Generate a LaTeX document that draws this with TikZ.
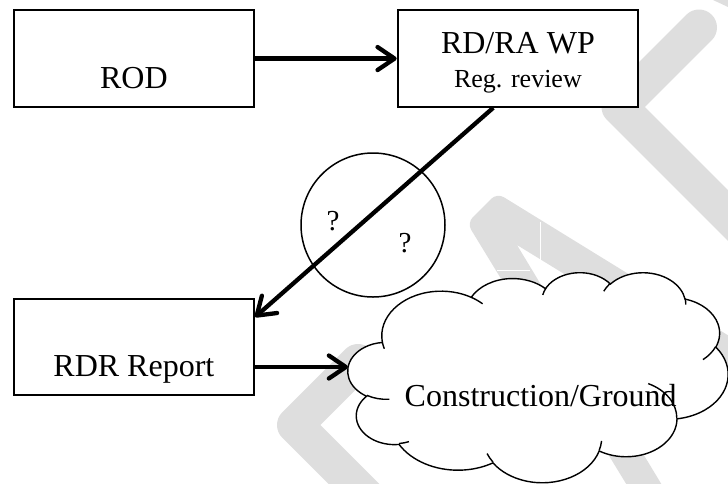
\documentclass[tikz,border=0pt]{standalone}
\usepackage{fontspec}
\setmainfont{Liberation Serif}
\usetikzlibrary{arrows.meta}
\definecolor{wmgray}{RGB}{222,222,222}
\begin{document}
\begin{tikzpicture}[x=1pt,y=-1pt,
  box/.style={draw, line width=1.8pt, fill=white, inner sep=0pt,
    minimum width=240.6pt, minimum height=96.7pt, anchor=north west},
  big/.style={font=\fontsize{32}{38}\selectfont, inner sep=0pt, anchor=base},
  small/.style={font=\fontsize{26}{31}\selectfont, inner sep=0pt, anchor=base},
  qmark/.style={font=\fontsize{29}{34}\selectfont, inner sep=0pt, anchor=base},
  conn/.style={line width=4.3pt, -{Straight Barb[length=17pt,width=23pt,round]}},
  wm/.style={wmgray, line width=36pt, line cap=round, line join=round},
  seam/.style={white, line width=0.8pt},
  cloudline/.style={line width=1.4pt},
  % elliptic arc given by radii, start angle and sweep measured as ray angles
  carc/.style n args={4}{insert path={arc[x radius=#1, y radius=#2,
    start angle={atan2((#1)*sin(#3),(#2)*cos(#3))},
    delta angle={mod(atan2((#1)*sin((#3)+(#4)),(#2)*cos((#3)+(#4)))-atan2((#1)*sin(#3),(#2)*cos(#3))+720,360)}]}}
]
\useasboundingbox (0,0) rectangle (728,483);

% faint background marks
\begin{scope}
  \clip (0,0) rectangle (728,483);
  \draw[wm] (699,27.5) -- (619.5,107) -- (780,267.5);
  \draw[wm] (358,362) -- (295,425) -- (370,500);
  \fill[wmgray] (517,245) -- (760,394) -- (760,355) [rounded corners=8pt] -- (497,193)
    -- (467,223) [sharp corners] -- (636,500) -- (671,500) -- cycle;
  \fill[wmgray] (713,0) -- (728,0) -- (728,7) -- cycle;
  \draw[seam] (540,222) -- (540,262);
  \draw[seam] (497,270) -- (530,270);
\end{scope}

% cloud outline
\begin{scope}[shift={(348,272)}, xscale=0.87963, yscale=0.48611]
  \draw[cloudline, fill=white] (39.00,143.70)
    [carc={67.53}{91.90}{-190.4875}{123.7805}]
    [carc={53.33}{72.67}{-144.1024}{89.9452}]
    [carc={43.65}{59.45}{-145.8079}{99.7230}]
    [carc={48.57}{65.95}{-130.9861}{117.2417}]
    [carc={53.33}{72.73}{-78.7089}{109.0269}]
    [carc={67.75}{92.20}{-46.2673}{130.2690}]
    [carc={57.85}{78.67}{0.6250}{114.0333}]
    [carc={67.52}{92.15}{22.4516}{115.1726}]
    [carc={77.20}{105.43}{66.2426}{75.7110}]
    [carc={43.60}{59.18}{-274.9421}{146.7356}]
    [carc={43.45}{59.45}{-246.8285}{152.5189}] -- cycle;
\end{scope}

\node[big] (cloudlbl) at (540.7,406) {Construction/Ground};

% inner puff lines of the cloud
\begin{scope}[shift={(348,272)}, xscale=0.87963, yscale=0.48611]
  \draw[cloudline]
    (46.93,261.77) [carc={43.45}{59.45}{86.7420}{26.4295}]
    (69.28,348.99) [carc={43.60}{59.18}{73.6105}{11.4475}]
    (164.78,390.90) [carc={67.52}{92.15}{137.6242}{14.0811}]
    (288.27,347.51) [carc={67.52}{92.15}{6.4533}{15.9984}]
    (341.29,229.54) [carc={57.85}{78.67}{-70.2924}{70.9174}]
    (417.98,153.54) [carc={53.33}{72.73}{30.3180}{27.7515}]
    (383.24,54.26) [carc={48.57}{65.95}{-13.7443}{14.8589}]
    (290.78,39.52) [carc={48.57}{65.95}{-149.1815}{18.1954}]
    (221.41,47.20) [carc={43.65}{59.45}{-163.4943}{17.6864}]
    (140.00,51.92) [carc={67.53}{91.90}{-66.7070}{12.3194}]
    (41.27,157.89) [carc={67.53}{91.90}{157.6544}{11.8582}];
\end{scope}
\coordinate (cloudW) at (348,367);

% boxes
\node[box] (rod) at (12.7,9.3) {};
\node[box] (rdra) at (396.7,9.3) {};
\node[box, minimum height=96.3pt] (rdr) at (12.7,297.7) {};

\node[big] (rodlbl) at ([yshift=19.3pt]rod.south) {ROD};
\node[big] (rdralbl) at ([yshift=-44pt]rdra.north) {RD/RA WP};
\node[small] (rdrasub) at ([yshift=20pt]rdra.south) {Reg. review};
\node[big] (rdrlbl) at ([yshift=19.3pt]rdr.south) {RDR Report};

% open question ring
\node[draw, circle, line width=1.5pt, minimum size=144pt, inner sep=0pt] (ring) at (373,225) {};
\node[qmark] (q1) at (333,230) {?};
\node[qmark] (q2) at (405,252) {?};

% connectors
\draw[conn] (rod.east) -- (rdra.west);
\draw[conn] ([xshift=-24.7pt]rdra.south) -- ([yshift=-19.3pt]rdr.north east);
\draw[conn] (rdr.east |- cloudW) -- (cloudW);
\end{tikzpicture}
\end{document}
